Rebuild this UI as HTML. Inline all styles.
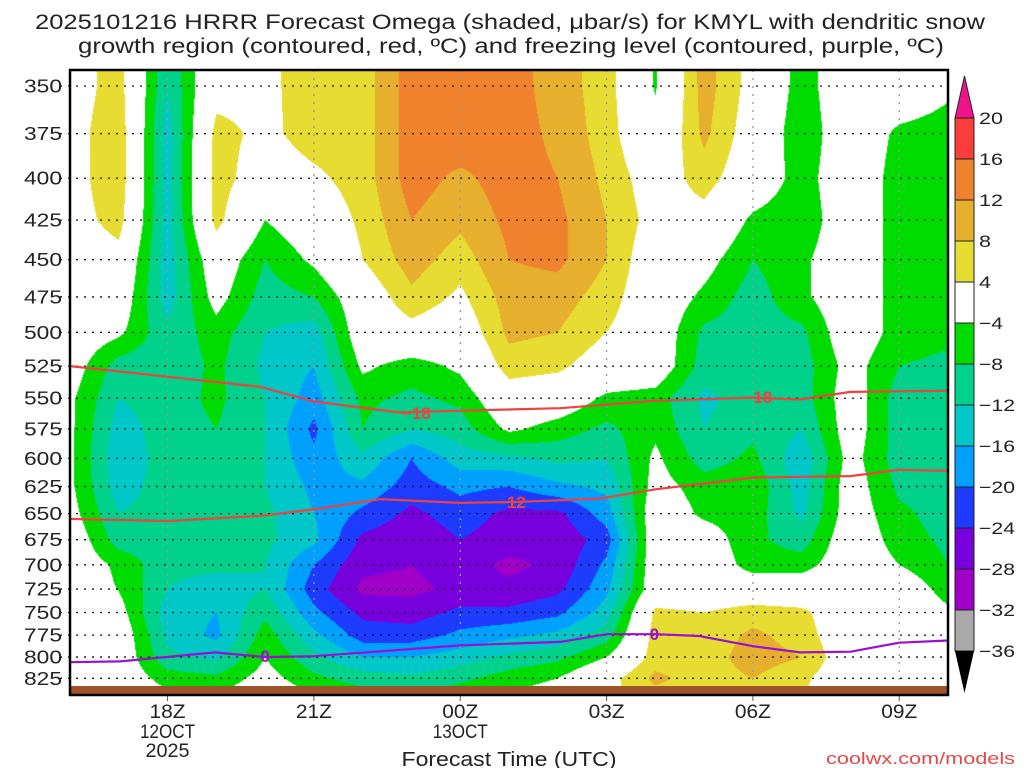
<!DOCTYPE html>
<html><head><meta charset="utf-8"><style>
html,body{margin:0;padding:0;background:#fff;width:1024px;height:768px;overflow:hidden}
#wrap{position:relative;width:1024px;height:768px}
canvas{position:absolute;left:70px;top:70px}
svg{position:absolute;left:0;top:0}
text{font-family:"Liberation Sans",sans-serif;fill:#222}
</style></head><body>
<div id="wrap">
<canvas id="cv" width="878" height="625"></canvas>
<svg id="sv" width="1024" height="768"></svg>
</div>
<script>
// ---- data ----
const hours = [0,1,2,3,4,5,6,7,8,9,10,11,12,13,14,15,16,17,18];
const levels = [350,375,400,425,450,475,500,525,550,575,600,625,650,675,700,725,750,775,800,825,850];
const omegaH0  = [1.5,2,2,1.5,0,0,0,-1,-3,-3,-3,-3,-2,0,0,0,0,0,0,0,0];
const omegaH1  = [6,7,7,6,2,0,-3,-10,-12,-14,-15,-14,-12,-10,-5,-4.2,-2,0,0,0,0];
const omegaH2  = [-12,-14,-14,-14,-14,-14,-11,-11,-10,-10,-10,-10,-10,-10,-11,-12,-14,-13,-11,-6,-2];
const omegaH3  = [2,5.5,6,5.5,0,-2,-6,-7,-7,-8,-10,-10,-10,-10,-11,-14,-16,-17,-13,-7,-3];
const omegaH4  = [3,2.8,1,-4,-8,-10,-12,-13,-12,-12,-12,-12,-11,-11,-12,-12,-9,-6,-4,-2,0];
const omegaH5  = [6,6,3,0,-3,-8,-14,-16,-18,-21,-19,-17,-16,-15,-20,-22,-19,-15,-11,-7,-3];
const omegaH6  = [6,6,6,5,4,0,0,-3,-7,-8,-13,-17,-21,-25,-27,-29,-25,-22,-16,-10,-5];
const omegaH7  = [14,14,14,12,10,7,2,-6,-9,-12,-20,-22,-25,-27,-28,-29,-26,-22,-16,-11,-6];
const omegaH8  = [15,15,11,9,6,3,0,-3,-7,-10,-14,-19,-22,-24,-26,-27,-23,-19,-14,-9,-5];
const omegaH9  = [14,14,14,13,12,10,9,6,1,-3,-13,-20,-25,-26,-29,-27,-23,-17,-11,-6,-3];
const omegaH10 = [10,11,12,13,13,10,8,5,0,-6,-11,-17,-25,-27,-27,-25,-21,-15,-9,-4,-1];
const omegaH11 = [6,6,7,8,8,6,4,1,-5,-9,-12,-15,-18,-22,-19,-17,-14,-10,-4,2,3];
const omegaH12 = [-4.5,-2,1,2,0,0,0,0,-6,-5,-3,-2,0,0,0,0,5,6,6,9,6];
const omegaH13 = [10,9,6,2,-2,-5,-9,-10,-13,-12,-10,-6,-5,-1,0,0,4,5,6,6,5];
const omegaH14 = [2,1,0,-5,-8,-10,-10,-10,-10,-9,-7,-5,-6,-7,-6,0,6,9,10,8,5];
const omegaH15 = [-6,-7,-6,-7,-5,-5,-9,-10,-10,-12,-15,-14,-13,-10,-6,0,5,6,8,5,4];
const omegaH16 = [0,0,0,0,0,0,0,-2,-1,-1,-2,-1,-1,0,0,0,0,0,0,0,0];
const omegaH17 = [0,-5,-6,-6,-6,-6,-6,-8,-10,-10,-10,-9,-7,-6,-4,0,0,0,0,0,0];
const omegaH18 = [-3,-6,-6,-6,-7,-7,-7,-9,-10,-10,-10,-10,-10,-9,-8,-6,-3,0,0,0,0];
const omegaCols = [omegaH0,omegaH1,omegaH2,omegaH3,omegaH4,omegaH5,omegaH6,omegaH7,omegaH8,omegaH9,omegaH10,omegaH11,omegaH12,omegaH13,omegaH14,omegaH15,omegaH16,omegaH17,omegaH18];
const colorLevels = [20,16,12,8,4,-4,-8,-12,-16,-20,-24,-28,-32,-36];
const colorLabels = ["20","16","12","8","4","\u22124","\u22128","\u221212","\u221216","\u221220","\u221224","\u221228","\u221232","\u221236"];
const yTicks = [350,375,400,425,450,475,500,525,550,575,600,625,650,675,700,725,750,775,800,825];
const xTickHours = [2,5,8,11,14,17];
const xTickLabels = ["18Z","21Z","00Z","03Z","06Z","09Z"];
const line18Hours = [0,3.9,5,6.76,8,10.05,12,14,14.96,16,18];
const line18Press = [525,541,552.6,561.5,560,558,552,549.5,551,545,544];
const line12Hours = [0,2,3.9,5,6.35,8,9.23,10.87,12,14,16,17,18];
const line12Press = [655,657,652,646,636.6,640,639,636,627.5,617,615.6,610,611];
const line0Hours = [0,1.02,2.97,4,5,8,10.05,11,12,12.9,14,14.96,16,17,18];
const line0Press = [806,805,794.6,800,799,786.6,782.6,774,774,776,787.5,794.6,793.8,783.5,781];

// ---- axes ----
const X0=70, PXH=48.78;
function xOf(h){return X0+h*PXH;}
function yOf(p){return 86+690.8*Math.log(p/350);}
function pOfY(y){return 350*Math.exp((y-86)/690.8);}
const bandColors=["#fa3c3c","#f0822d","#e6af2d","#e6dc32","#ffffff","#00dc00","#00d28c","#00c8c8","#00a0ff","#1e3cff","#7800dc","#a000c8","#aaaaaa"];
function colorOf(v){
  if(v>=20) return [240,0,130];
  const rgb=[[250,60,60],[240,130,45],[230,175,45],[230,220,50],[255,255,255],[0,220,0],[0,210,140],[0,200,200],[0,160,255],[30,60,255],[120,0,220],[160,0,200],[170,170,170]];
  for(let i=0;i<13;i++){ if(v>=colorLevels[i+1]) return rgb[i]; }
  return [0,0,0];
}
function valAt(h,p){
  let hi=Math.max(0,Math.min(hours.length-1.0001,h));
  let r=(p-levels[0])/25; r=Math.max(0,Math.min(levels.length-1.0001,r));
  const i=Math.floor(hi), j=Math.floor(r), fx=hi-i, fy=r-j;
  const a=omegaCols[i][j], b=omegaCols[i+1][j], c=omegaCols[i][j+1], d=omegaCols[i+1][j+1];
  return (a*(1-fx)+b*fx)*(1-fy)+(c*(1-fx)+d*fx)*fy;
}
// ---- shading ----
const cv=document.getElementById('cv'), ctx=cv.getContext('2d');
const img=ctx.createImageData(878,625);
for(let py=0;py<625;py++){
  const p=pOfY(70+py+0.5);
  for(let px=0;px<878;px++){
    const h=(px+0.5)/PXH;
    const c=colorOf(valAt(h,p));
    const k=(py*878+px)*4;
    img.data[k]=c[0];img.data[k+1]=c[1];img.data[k+2]=c[2];img.data[k+3]=255;
  }
}
ctx.putImageData(img,0,0);

// ---- overlay ----
const NS="http://www.w3.org/2000/svg", sv=document.getElementById('sv');
function mk(tag,attrs,parent){const e=document.createElementNS(NS,tag);for(const k in attrs)e.setAttribute(k,attrs[k]);(parent||sv).appendChild(e);return e;}
function txt(s,x,y,size,anchor,len,fill){const t=mk('text',{x:x,y:y,'font-size':size,'text-anchor':anchor||'start'});if(len){t.setAttribute('textLength',len);t.setAttribute('lengthAdjust','spacingAndGlyphs');}if(fill)t.setAttribute('style','fill:'+fill);t.textContent=s;return t;}

// ground bar
let g=mk('rect',{x:70,y:686,width:878,height:9,fill:'#a0522d'});



// grid
yTicks.forEach(p=>{
  const y=yOf(p);
  const l=mk('line',{x1:60,x2:948,y1:y,y2:y,stroke:'#111','stroke-width':1.3,'stroke-dasharray':'2,6'});
  
  
  const t=txt(String(p),62,y+6.5,18,'end',38);
  
  
});
xTickHours.forEach((h,i)=>{
  const x=xOf(h);
  const l=mk('line',{x1:x,x2:x,y1:70,y2:686,stroke:'#999','stroke-width':1.3,'stroke-dasharray':'2,6'});
  
  
  mk('line',{x1:x,x2:x,y1:695,y2:701,stroke:'#555','stroke-width':1});
  const t=txt(xTickLabels[i],x,718,19,'middle',36);
  
  
});
let t1=txt("12OCT",xOf(2),738,19,'middle',55);


let t2=txt("2025",xOf(2),757,19,'middle',44);


let t3=txt("13OCT",xOf(8),738,19,'middle',55);



// contour lines
function drawLine(hs,ps,color,name){
  const d=hs.map((h,i)=>(i?'L':'M')+xOf(h).toFixed(1)+','+yOf(ps[i]).toFixed(1)).join(' ');
  const l=mk('path',{d:d,fill:'none',stroke:color,'stroke-width':2.2,'stroke-linejoin':'round'});
  
  
}
drawLine(line18Hours,line18Press,'#f04040','contour-minus18');
drawLine(line12Hours,line12Press,'#f04040','contour-minus12');
drawLine(line0Hours,line0Press,'#9a10d0','freezing-level-0');
function clabel(s,h,p,color){
  const x=xOf(h), y=yOf(p);
  const t=mk('text',{x:x,y:y+6,'font-size':17,'font-weight':'bold','text-anchor':'middle',style:'fill:'+color});
  t.textContent=s;
  
  
}
clabel("\u221218",7.1,562,'#f04040');
clabel("\u221218",14.1,549,'#f04040');
clabel("\u221212",9.05,639,'#f04040');
clabel("0",4,799,'#9a10d0');
clabel("0",11.98,774,'#9a10d0');

// frame
let fr=mk('rect',{x:70,y:70,width:878,height:625,fill:'none',stroke:'#000','stroke-width':2.5});



// colorbar
const CBX=955, CBW=19, CBT=118, BOX=41;
let tri=mk('polygon',{points:`${CBX},${CBT} ${CBX+CBW},${CBT} ${CBX+CBW/2},76`,fill:'#f0148c',stroke:'#222','stroke-width':1});


bandColors.forEach((c,i)=>{
  const r=mk('rect',{x:CBX,y:CBT+i*BOX,width:CBW,height:BOX,fill:c,stroke:'#222','stroke-width':1});
  
  
});
let tri2=mk('polygon',{points:`${CBX},${CBT+13*BOX} ${CBX+CBW},${CBT+13*BOX} ${CBX+CBW/2},693`,fill:'#000'});


colorLabels.forEach((s,i)=>{
  const t=txt(s,979,CBT+i*BOX+6,17,'start',s.length*12);
  
  
});

// titles
let ti1=txt("2025101216 HRRR Forecast Omega (shaded, \u03bcbar/s) for KMYL with dendritic snow",510,29,21,'middle',950);


let ti2=txt("growth region (contoured, red, \u00baC) and freezing level (contoured, purple, \u00baC)",511,53,21,'middle',866);


let xt=txt("Forecast Time (UTC)",509,766,20,'middle',215);


let cr=txt("coolwx.com/models",1015,764,17,'end',189,'#e04848');


</script>
</body></html>
